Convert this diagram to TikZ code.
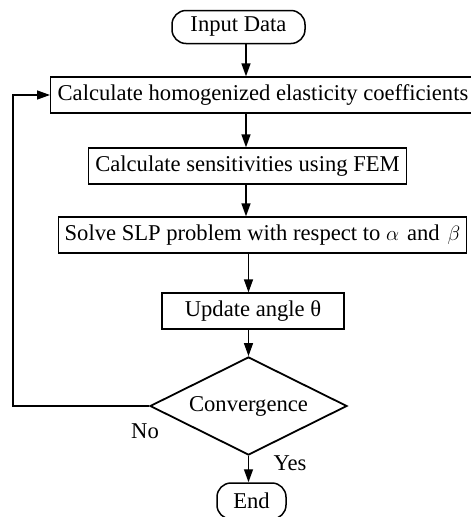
\documentclass[tikz,border=0pt]{standalone}
\usepackage{fontspec}
\setmainfont{Liberation Serif}
\usetikzlibrary{arrows.meta,shapes.geometric}
\begin{document}
\begin{tikzpicture}[x=1pt,y=-1pt,
  every node/.style={font=\fontsize{22.6}{27}\selectfont},
  box/.style={draw,line width=1.3pt,inner ysep=0pt,inner xsep=7pt,minimum height=36pt},
  term/.style={draw,line width=1.5pt,rounded corners=14pt,inner sep=0pt},
  dec/.style={draw,diamond,aspect=2,line width=1.8pt,inner sep=0pt,minimum width=197pt,minimum height=98pt},
  arr/.style={line width=1.4pt,-{Triangle[length=13pt,width=9pt]}},
  lbl/.style={inner sep=0pt}]
\useasboundingbox (0,0) rectangle (471,517);
\node[term,minimum width=133pt,minimum height=33pt] (in) at (238.5,27) {Input Data};
\node[box,anchor=west] (calc) at (50,95) {Calculate homogenized elasticity coefficients};
\node[box,minimum width=315pt] (fem) at (247.5,166) {Calculate sensitivities using FEM};
\node[box,anchor=west,inner xsep=6pt] (slp) at (58,235) {Solve SLP problem with respect to $\alpha$\hspace{8pt}and\hspace{8pt}$\beta$};
\node[box,minimum width=182pt] (upd) at (253,311) {Update angle θ};
\node[dec] (conv) at (248.5,406) {Convergence};
\node[term,minimum width=69pt,minimum height=36pt] (end) at (251.5,501) {End};
\node[lbl] (no) at (145,431) {No};
\node[lbl] (yes) at (290,463) {Yes};
\coordinate (ax) at (246,0);
\coordinate (fb) at (13,0);
\draw[arr] (in.south -| ax) -- (calc.north -| ax);
\draw[arr] (calc.south -| ax) -- (fem.north -| ax);
\draw[arr] (fem.south -| ax) -- (slp.north -| ax);
\draw[arr] (slp.south -| conv) -- (upd.north -| conv);
\draw[arr] (upd.south -| conv) -- (conv.north);
\draw[arr] (conv.south) -- (end.north -| conv);
\draw[arr] (conv.west) -- (conv.west -| fb) |- (calc.west);
\end{tikzpicture}
\end{document}
